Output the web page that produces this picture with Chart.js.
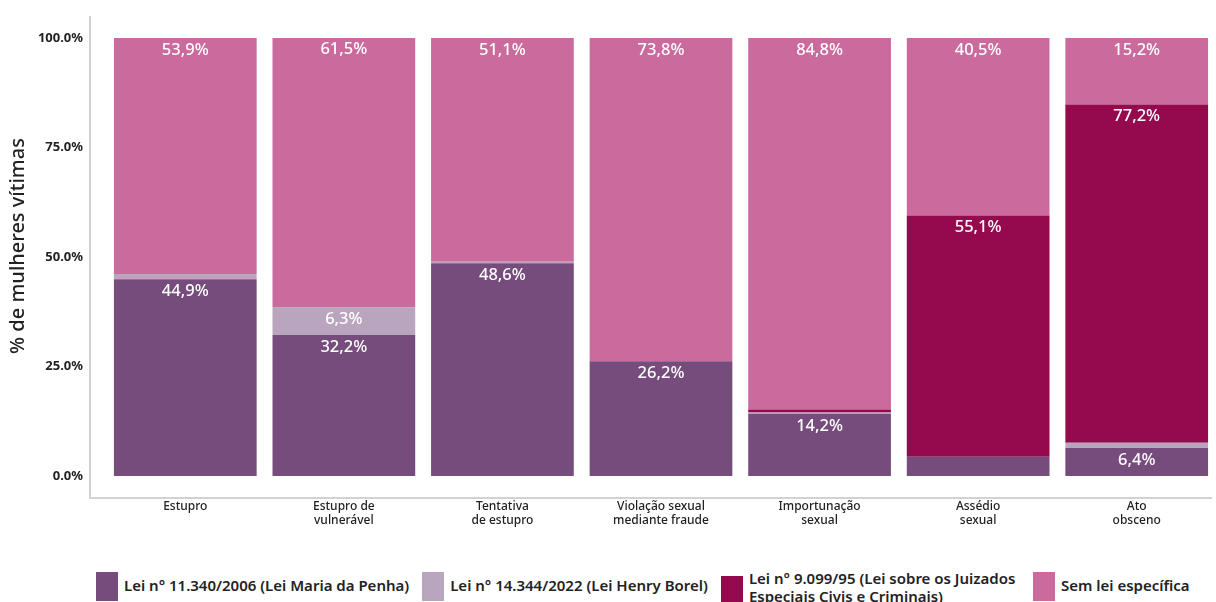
<!DOCTYPE html>
<html>
<head>
<meta charset="utf-8">
<script src="https://cdn.jsdelivr.net/npm/chart.js@4.4.1/dist/chart.umd.min.js"></script>
<style>
  html, body { margin: 0; padding: 0; background: #fff; }
  body { width: 1216px; height: 602px; position: relative; overflow: hidden; font-family: "Noto Sans", sans-serif; }
  #wrap { position: absolute; left: 0; top: 0; width: 1216px; height: 560px; }
  #legend { position: absolute; left: 96px; top: 572px; display: flex; align-items: flex-start; gap: 13px; }
  .item { display: flex; align-items: center; gap: 6px; font-size: 15px; font-weight: 600; color: #222; line-height: 18px; }
  .box { width: 22px; height: 29px; flex: none; }
  .txt { white-space: nowrap; position: relative; top: -2px; }
  .txt.wrap { white-space: normal; width: 271px; top: -3px; }
</style>
</head>
<body>
<div id="wrap"><canvas id="chart"></canvas></div>
<div id="legend"></div>
<script>
// categories (x axis, multi-line)
const categories = [
  ["Estupro"],
  ["Estupro de", "vulnerável"],
  ["Tentativa", "de estupro"],
  ["Violação sexual", "mediante fraude"],
  ["Importunação", "sexual"],
  ["Assédio", "sexual"],
  ["Ato", "obsceno"],
];

// series values (% de mulheres vítimas), bottom to top
const leiMariaDaPenha = [44.9, 32.2, 48.6, 26.2, 14.2, 4.4, 6.4];
const leiHenryBorel   = [1.2, 6.3, 0.3, 0, 0.3, 0, 1.2];
const lei9099         = [0, 0.1, 0, 0, 0.7, 55.1, 77.2];
const semLei          = [53.9, 61.5, 51.1, 73.8, 84.8, 40.5, 15.2];

const seriesNames = [
  "Lei n° 11.340/2006 (Lei Maria da Penha)",
  "Lei n° 14.344/2022 (Lei Henry Borel)",
  "Lei n° 9.099/95 (Lei sobre os Juizados Especiais Civis e Criminais)",
  "Sem lei específica",
];
const seriesColors = ["#754C7B", "#B9A5BE", "#95094F", "#CB6A9D"];

const yTicks = [0, 25, 50, 75, 100];
const yTitle = "% de mulheres vítimas";

// white value labels near the top of each segment
const valueLabels = {
  id: "valueLabels",
  afterDatasetsDraw(chart) {
    const ctx = chart.ctx;
    ctx.save();
    ctx.fillStyle = "#ffffff";
    ctx.font = "500 16.5px 'Noto Sans'";
    ctx.textAlign = "center";
    ctx.textBaseline = "middle";
    chart.data.datasets.forEach((ds, i) => {
      const meta = chart.getDatasetMeta(i);
      meta.data.forEach((bar, j) => {
        const v = ds.data[j];
        if (v < 5) return;
        const label = v.toFixed(1).replace(".", ",") + "%";
        ctx.fillText(label, bar.x, bar.y + 12);
      });
    });
    ctx.restore();
  },
};

// light grey axis lines set a bit apart from the plot area, plus the y title
const axisLines = {
  id: "axisLines",
  beforeDraw(chart) {
    const { ctx, chartArea } = chart;
    ctx.save();
    ctx.strokeStyle = "#d2d2d2";
    ctx.lineWidth = 2;
    ctx.beginPath();
    ctx.moveTo(chartArea.left - 16, chartArea.top - 22);
    ctx.lineTo(chartArea.left - 16, chartArea.bottom + 22);
    ctx.lineTo(chartArea.right - 4, chartArea.bottom + 22);
    ctx.stroke();

    // y title sits a little above the middle of the plot
    ctx.translate(18, (chartArea.top + chartArea.bottom) / 2 - 11);
    ctx.rotate(-Math.PI / 2);
    ctx.fillStyle = "#222";
    ctx.font = "500 20px 'Noto Sans'";
    ctx.textAlign = "center";
    ctx.textBaseline = "middle";
    ctx.fillText(yTitle, 0, 0);
    ctx.restore();
  },
};

const datasets = [leiMariaDaPenha, leiHenryBorel, lei9099, semLei].map((data, i) => ({
  label: seriesNames[i],
  data: data,
  backgroundColor: seriesColors[i],
  borderWidth: 0,
  barPercentage: 0.9,
  categoryPercentage: 1.0,
}));

new Chart(document.getElementById("chart").getContext("2d"), {
  type: "bar",
  data: { labels: categories, datasets: datasets },
  plugins: [axisLines, valueLabels],
  options: {
    responsive: true,
    maintainAspectRatio: false,
    animation: false,
    layout: { padding: { top: 38, right: 0, left: 0, bottom: 0 } },
    plugins: {
      legend: { display: false },
      tooltip: { enabled: false },
    },
    scales: {
      x: {
        stacked: true,
        grid: { display: false, drawTicks: false },
        border: { display: false },
        ticks: {
          padding: 24,
          color: "#222",
          font: { family: "'Noto Sans'", size: 12, weight: 500, lineHeight: 1.17 },
          maxRotation: 0,
          autoSkip: false,
        },
        afterFit(scale) { scale.height = 84; },
      },
      y: {
        stacked: true,
        min: 0,
        max: 100,
        afterBuildTicks(scale) { scale.ticks = yTicks.map((v) => ({ value: v })); },
        grid: { display: false, drawTicks: false },
        border: { display: false },
        ticks: {
          padding: 23,
          color: "#222",
          font: { family: "'Noto Sans'", size: 13, weight: "bold" },
          callback: (v) => v.toFixed(1) + "%",
        },
        title: { display: false },
        afterFit(scale) { scale.width = 106; },
      },
    },
  },
});

// legend as html, built from the same series arrays
const legend = document.getElementById("legend");
seriesNames.forEach((name, i) => {
  const item = document.createElement("div");
  item.className = "item";
  const box = document.createElement("div");
  box.className = "box";
  box.style.background = seriesColors[i];
  const txt = document.createElement("div");
  txt.className = i === 2 ? "txt wrap" : "txt";
  txt.textContent = name;
  item.appendChild(box);
  item.appendChild(txt);
  legend.appendChild(item);
});
</script>
</body>
</html>
